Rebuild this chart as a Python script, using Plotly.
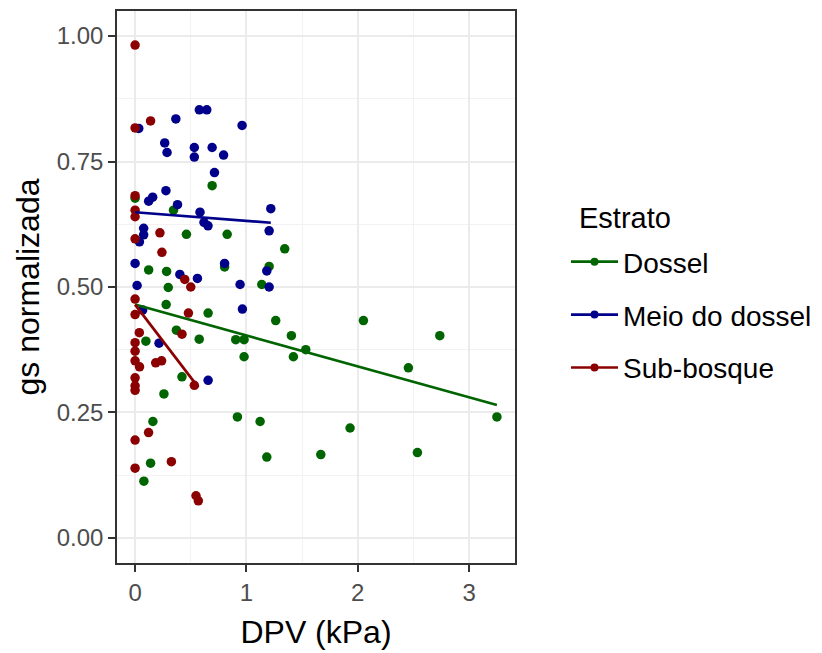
import plotly.graph_objects as go

# DPV (kPa) and normalised stomatal conductance per canopy stratum
dossel_dpv = [0.00, 0.692, 0.345, 0.461, 0.827, 1.344, 0.804, 1.204, 0.122, 0.283,
              0.298, 1.138, 0.279, 0.656, 1.263, 2.051, 0.371, 0.576, 0.904, 0.979,
              0.097, 1.404, 2.737, 0.979, 1.422, 1.533, 2.455, 0.421, 0.259, 3.25,
              0.919, 1.123, 0.160, 1.931, 1.183, 1.668, 2.536, 0.139, 0.079]
dossel_gs = [0.677, 0.702, 0.653, 0.605, 0.605, 0.576, 0.540, 0.541, 0.534, 0.531,
             0.499, 0.505, 0.465, 0.448, 0.433, 0.433, 0.414, 0.396, 0.395, 0.395,
             0.392, 0.403, 0.403, 0.361, 0.361, 0.375, 0.339, 0.321, 0.287, 0.241,
             0.241, 0.232, 0.232, 0.219, 0.161, 0.166, 0.170, 0.149, 0.113]

meio_dpv = [0.033, 0.366, 0.577, 0.644, 0.961, 0.266, 0.287, 0.532, 0.532, 0.692,
            0.795, 0.713, 0.277, 0.158, 0.122, 0.381, 0.583, 0.619, 0.655, 1.219,
            1.204, 0.077, 0.077, 0.039, 0.000, 0.804, 1.183, 0.402, 0.560, 0.018,
            0.943, 1.204, 0.068, 0.964, 0.215, 0.656]
meio_gs = [0.816, 0.835, 0.853, 0.853, 0.822, 0.787, 0.768, 0.778, 0.759, 0.778,
           0.763, 0.728, 0.692, 0.679, 0.671, 0.664, 0.649, 0.629, 0.622, 0.656,
           0.612, 0.617, 0.604, 0.590, 0.547, 0.547, 0.532, 0.525, 0.517, 0.503,
           0.505, 0.500, 0.454, 0.456, 0.388, 0.314]

sub_dpv = [0.000, 0.000, 0.139, 0.000, 0.000, 0.000, 0.000, 0.223, 0.241, 0.446,
           0.500, 0.000, 0.000, 0.479, 0.038, 0.421, 0.000, 0.000, 0.000, 0.040,
           0.000, 0.000, 0.000, 0.185, 0.238, 0.532, 0.121, 0.000, 0.326, 0.000,
           0.547, 0.568]
sub_gs = [0.982, 0.817, 0.831, 0.682, 0.653, 0.640, 0.596, 0.608, 0.569, 0.515,
          0.500, 0.476, 0.445, 0.448, 0.409, 0.406, 0.389, 0.372, 0.353, 0.341,
          0.319, 0.303, 0.294, 0.349, 0.353, 0.304, 0.210, 0.195, 0.152, 0.139,
          0.084, 0.074]

# Linear fits (start / end of each fitted segment)
dossel_fit_x = [0.0, 3.25]
dossel_fit_y = [0.465, 0.265]
meio_fit_x = [0.0, 1.219]
meio_fit_y = [0.649, 0.628]
sub_fit_x = [0.0, 0.568]
sub_fit_y = [0.465, 0.300]

estratos = ["Dossel", "Meio do dossel", "Sub-bosque"]
cores = ["#006400", "#00008B", "#8B0000"]

x_ticks = [0, 1, 2, 3]
y_ticks = [0.0, 0.25, 0.5, 0.75, 1.0]

FONT = "Arial, Liberation Sans, sans-serif"

series = [
    (dossel_dpv, dossel_gs, dossel_fit_x, dossel_fit_y),
    (meio_dpv, meio_gs, meio_fit_x, meio_fit_y),
    (sub_dpv, sub_gs, sub_fit_x, sub_fit_y),
]

fig = go.Figure()

for nome, cor, (px, py, fx, fy) in zip(estratos, cores, series):
    fig.add_trace(go.Scatter(
        x=px, y=py, mode="markers", showlegend=False,
        marker=dict(color=cor, size=9.5, line=dict(width=0)),
    ))
for nome, cor, (px, py, fx, fy) in zip(estratos, cores, series):
    fig.add_trace(go.Scatter(
        x=fx, y=fy, mode="lines", showlegend=False,
        line=dict(color=cor, width=2.7),
    ))
# legend keys: line with point, as in the ggplot key
for nome, cor in zip(estratos, cores):
    fig.add_trace(go.Scatter(
        x=[None], y=[None], mode="lines+markers", name=nome,
        legendgroup=nome,
        line=dict(color=cor, width=2.7),
        marker=dict(color=cor, size=8),
    ))

axis_common = dict(
    showgrid=True, gridcolor="#EBEBEB", gridwidth=1.6,
    minor=dict(showgrid=True, gridcolor="#F2F2F2", gridwidth=1),
    showline=True, mirror=True, linecolor="#333333", linewidth=1.5,
    ticks="outside", ticklen=7, tickwidth=1.5, tickcolor="#333333",
    tickfont=dict(family=FONT, size=24, color="#4D4D4D"),
    zeroline=False,
)

fig.update_layout(
    width=822, height=653,
    margin=dict(l=117, r=307, t=9, b=88),
    paper_bgcolor="white", plot_bgcolor="white",
    font=dict(family=FONT, color="black"),
    xaxis=dict(
        range=[-0.1625, 3.4125], tickvals=x_ticks,
        title=dict(text="DPV (kPa)", font=dict(family=FONT, size=32, color="black"), standoff=16),
        **axis_common,
    ),
    yaxis=dict(
        range=[-0.05, 1.05], tickvals=y_ticks, tickformat=".2f",
        title=dict(text="gs normalizada", font=dict(family=FONT, size=32, color="black"), standoff=8),
        **axis_common,
    ),
    legend=dict(
        font=dict(family=FONT, size=28, color="black"),
        xref="container", yref="container",
        x=566 / 822, xanchor="left", y=1 - 237 / 653, yanchor="top",
        itemwidth=47,
        bgcolor="rgba(0,0,0,0)", tracegroupgap=13.5,
    ),
    annotations=[dict(
        text="Estrato", xref="paper", yref="paper",
        x=(577 - 117) / 398, y=(565 - 217) / 556, xanchor="left", yanchor="middle",
        showarrow=False, font=dict(family=FONT, size=29, color="black"),
    )],
)
fig.update_xaxes(minor=dict(tickvals=[0.5, 1.5, 2.5]))
fig.update_yaxes(minor=dict(tickvals=[0.125, 0.375, 0.625, 0.875]))

fig.write_html("out.html")
